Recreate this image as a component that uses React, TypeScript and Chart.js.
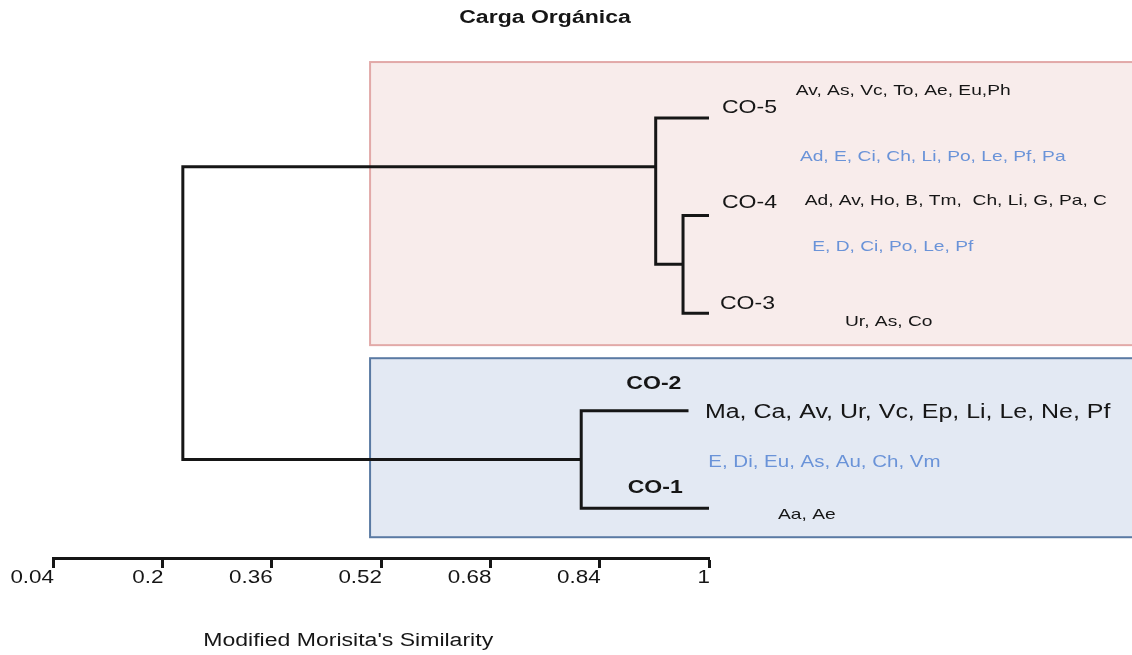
import React, { useEffect, useRef } from 'react';
import { Chart, registerables } from 'chart.js';

Chart.register(...registerables);

// ---- data ----
const tickValues = [0.04, 0.2, 0.36, 0.52, 0.68, 0.84, 1];
const tickLabels = ['0.04', '0.2', '0.36', '0.52', '0.68', '0.84', '1'];

const leafNames = ['CO-5', 'CO-4', 'CO-3', 'CO-2', 'CO-1'];
const leafRows = [5, 4, 3, 2, 1];
const leafEnds = [1, 1, 1, 0.97, 1];

// internal nodes of the cluster tree
const mergeNames = ['A', 'B', 'C', 'root'];
const mergeLeft = ['CO-4', 'CO-5', 'CO-2', 'B'];
const mergeRight = ['CO-3', 'A', 'CO-1', 'C'];
const mergeSimilarity = [0.962, 0.922, 0.813, 0.23];
const mergeRow = [3.5, 4.5, 1.5, 3];

const speciesExclusive = [
  'Av, As, Vc, To, Ae, Eu,Ph',
  'Ad, Av, Ho, B, Tm,  Ch, Li, G, Pa, C',
  'Ur, As, Co',
  'Ma, Ca, Av, Ur, Vc, Ep, Li, Le, Ne, Pf',
  'Aa, Ae',
];
const speciesShared = [
  'Ad, E, Ci, Ch, Li, Po, Le, Pf, Pa',
  'E, D, Ci, Po, Le, Pf',
  'E, Di, Eu, As, Au, Ch, Vm',
];

const chartTitle = 'Carga Orgánica';
const axisTitle = "Modified Morisita's Similarity";

// ---- layout & style ----
const FONT = '"Liberation Sans", Arial, sans-serif';
const STRETCH = 1.28;
const INK = '#161616';
const SHARED_INK = '#6a93d8';

const groupBoxes = [
  { x0: 0.504, x1: 1.625, y0: 2.672, y1: 5.574, fill: '#f8eceb', stroke: '#e2a9a8' },
  { x0: 0.504, x1: 1.625, y0: 0.703, y1: 2.538, fill: '#e3e9f3', stroke: '#5a7aa3' },
];

const leafLabelAt = [[1.019, 5.103], [1.019, 4.128], [1.016, 3.092], [0.879, 2.272], [0.881, 1.205]];
const leafLabelBold = [false, false, false, true, true];
const exclusiveAt = [[1.127, 5.277], [1.14, 4.149], [1.199, 2.908], [0.994, 1.985], [1.101, 0.928]];
const exclusiveSize = [15, 15, 15, 19.5, 15];
const sharedAt = [[1.133, 4.6], [1.151, 3.677], [0.999, 1.472]];
const sharedSize = [15, 15, 16];
const titleAt = [0.76, 6.026];
const axisTitleAt = [0.472, -0.364];

function nodePoint(name: string): { x: number; y: number } {
  const li = leafNames.indexOf(name);
  if (li >= 0) return { x: leafEnds[li], y: leafRows[li] };
  const mi = mergeNames.indexOf(name);
  return { x: mergeSimilarity[mi], y: mergeRow[mi] };
}

function buildDatasets() {
  return mergeNames.map((name, i) => {
    const a = nodePoint(mergeLeft[i]);
    const b = nodePoint(mergeRight[i]);
    const s = mergeSimilarity[i];
    return {
      label: name,
      data: [
        { x: a.x, y: a.y },
        { x: s, y: a.y },
        { x: s, y: b.y },
        { x: b.x, y: b.y },
      ],
      showLine: true,
      borderColor: INK,
      borderWidth: 3,
      borderJoinStyle: 'miter' as const,
      borderCapStyle: 'butt' as const,
      pointRadius: 0,
      tension: 0,
      clip: false as const,
    };
  });
}

function drawText(
  ctx: CanvasRenderingContext2D,
  text: string,
  x: number,
  y: number,
  size: number,
  opts: { bold?: boolean; color?: string; align?: CanvasTextAlign } = {}
) {
  ctx.save();
  ctx.translate(x, y);
  ctx.scale(STRETCH, 1);
  ctx.font = `${opts.bold ? 'bold ' : ''}${size}px ${FONT}`;
  ctx.fillStyle = opts.color || INK;
  ctx.textAlign = opts.align || 'left';
  ctx.textBaseline = 'middle';
  ctx.fillText(text, 0, 0);
  ctx.restore();
}

const groupBoxPlugin = {
  id: 'groupBoxes',
  beforeDatasetsDraw(chart: any) {
    const { ctx, scales } = chart;
    const xs = scales.x;
    const ys = scales.y;
    ctx.save();
    groupBoxes.forEach((g) => {
      const l = xs.getPixelForValue(g.x0);
      const r = xs.getPixelForValue(g.x1);
      const t = ys.getPixelForValue(g.y1);
      const b = ys.getPixelForValue(g.y0);
      ctx.fillStyle = g.fill;
      ctx.fillRect(l, t, r - l, b - t);
      ctx.strokeStyle = g.stroke;
      ctx.lineWidth = 2;
      ctx.strokeRect(l, t, r - l, b - t);
    });
    ctx.restore();
  },
};

const textPlugin = {
  id: 'dendroText',
  afterDraw(chart: any) {
    const { ctx, scales } = chart;
    const xs = scales.x;
    const ys = scales.y;
    const px = (v: number) => xs.getPixelForValue(v);
    const py = (v: number) => ys.getPixelForValue(v);

    drawText(ctx, chartTitle, px(titleAt[0]), py(titleAt[1]), 18, { bold: true, align: 'center' });

    leafNames.forEach((n, i) => {
      drawText(ctx, n, px(leafLabelAt[i][0]), py(leafLabelAt[i][1]), 18, { bold: leafLabelBold[i] });
    });
    speciesExclusive.forEach((t, i) => {
      drawText(ctx, t, px(exclusiveAt[i][0]), py(exclusiveAt[i][1]), exclusiveSize[i]);
    });
    speciesShared.forEach((t, i) => {
      drawText(ctx, t, px(sharedAt[i][0]), py(sharedAt[i][1]), sharedSize[i], { color: SHARED_INK });
    });

    // tick labels, right-aligned on their tick marks
    xs.ticks.forEach((tk: any, i: number) => {
      drawText(ctx, tickLabels[i], xs.getPixelForTick(i) + 1, xs.top + 20, 17.5, { align: 'right' });
    });

    drawText(ctx, axisTitle, px(axisTitleAt[0]), py(axisTitleAt[1]), 18, { align: 'center' });
  },
};

export default function App() {
  const canvasRef = useRef<HTMLCanvasElement | null>(null);

  useEffect(() => {
    const canvas = canvasRef.current;
    if (!canvas) return;
    const chart = new Chart(canvas, {
      type: 'scatter',
      data: { datasets: buildDatasets() as any },
      options: {
        responsive: false,
        animation: false,
        events: [],
        layout: { padding: { left: 53, right: 423, top: 40, bottom: 87 } },
        plugins: {
          legend: { display: false },
          tooltip: { enabled: false },
          title: { display: false },
        },
        scales: {
          x: {
            type: 'linear',
            position: 'bottom',
            min: tickValues[0],
            max: tickValues[tickValues.length - 1],
            afterBuildTicks: (axis: any) => {
              axis.ticks = tickValues.map((v) => ({ value: v }));
            },
            ticks: { display: false },
            grid: {
              display: true,
              drawOnChartArea: false,
              drawTicks: true,
              tickLength: 10,
              tickWidth: 3,
              tickColor: INK,
            },
            border: { display: true, color: INK, width: 3 },
          },
          y: {
            type: 'linear',
            display: false,
            min: 0.49,
            max: 5.8,
          },
        },
      },
      plugins: [groupBoxPlugin, textPlugin],
    });
    return () => chart.destroy();
  }, []);

  return (
    <div style={{ position: 'fixed', left: 0, top: 0, width: 1132, height: 655, background: '#fff' }}>
      <canvas ref={canvasRef} width={1132} height={655} />
    </div>
  );
}
